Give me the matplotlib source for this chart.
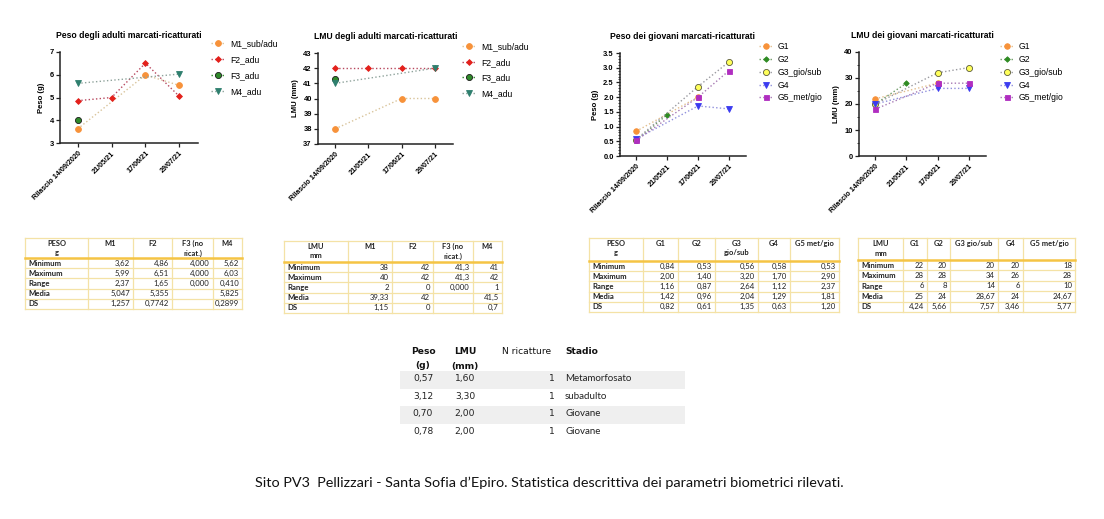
"""
Biometric charts and descriptive-statistics tables for site PV3 (Pellizzari).
Four GraphPad-style line charts on top, four stats tables, a small
recapture table and a caption, all laid out on one 1104x519 canvas.
"""

import numpy as np
import matplotlib
matplotlib.use("Agg")
import matplotlib.pyplot as plt
from matplotlib.ticker import MultipleLocator

nan = np.nan
plt.rcParams["font.family"] = ["Liberation Sans", "DejaVu Sans"]

# ---------------------------------------------------------------------------
# Data
# ---------------------------------------------------------------------------

DATES = ["Rilascio 14/09/2020", "21/05/21", "17/06/21", "29/07/21"]

ADULT_NAMES = ["M1_sub/adu", "F2_adu", "F3_adu", "M4_adu"]
PESO_ADULTI = [[3.62, nan, 5.99, 5.53],
               [4.86, 5.00, 6.51, 5.05],
               [4.00, nan, nan, nan],
               [5.62, nan, nan, 6.03]]
LMU_ADULTI = [[38, nan, 40, 40],
              [42, 42, 42, 42],
              [41.3, nan, nan, nan],
              [41, nan, nan, 42]]

JUV_NAMES = ["G1", "G2", "G3_gio/sub", "G4", "G5_met/gio"]
PESO_GIOVANI = [[0.84, nan, 2.00, nan],
                [0.53, 1.40, nan, nan],
                [0.56, nan, 2.36, 3.20],
                [0.58, nan, 1.70, 1.60],
                [0.53, nan, 2.00, 2.90]]
LMU_GIOVANI = [[22, nan, 28, nan],
               [20, 28, nan, nan],
               [20, nan, 32, 34],
               [20, nan, 26, 26],
               [18, nan, 28, 28]]

STAT_LABELS = ["Minimum", "Maximum", "Range", "Media", "DS"]

TAB1_HEAD = ["PESO\ng", "M1", "F2", "F3 (no\nricat.)", "M4"]
TAB1_ROWS = [["3,62", "4,86", "4,000", "5,62"],
             ["5,99", "6,51", "4,000", "6,03"],
             ["2,37", "1,65", "0,000", "0,410"],
             ["5,047", "5,355", "", "5,825"],
             ["1,257", "0,7742", "", "0,2899"]]

TAB2_HEAD = ["LMU\nmm", "M1", "F2", "F3 (no\nricat.)", "M4"]
TAB2_ROWS = [["38", "42", "41,3", "41"],
             ["40", "42", "41,3", "42"],
             ["2", "0", "0,000", "1"],
             ["39,33", "42", "", "41,5"],
             ["1,15", "0", "", "0,7"]]

TAB3_HEAD = ["PESO\ng", "G1", "G2", "G3\ngio/sub", "G4", "G5 met/gio"]
TAB3_ROWS = [["0,84", "0,53", "0,56", "0,58", "0,53"],
             ["2,00", "1,40", "3,20", "1,70", "2,90"],
             ["1,16", "0,87", "2,64", "1,12", "2,37"],
             ["1,42", "0,96", "2,04", "1,29", "1,81"],
             ["0,82", "0,61", "1,35", "0,63", "1,20"]]

TAB4_HEAD = ["LMU\nmm", "G1", "G2", "G3 gio/sub", "G4", "G5 met/gio"]
TAB4_ROWS = [["22", "20", "20", "20", "18"],
             ["28", "28", "34", "26", "28"],
             ["6", "8", "14", "6", "10"],
             ["25", "24", "28,67", "24", "24,67"],
             ["4,24", "5,66", "7,57", "3,46", "5,77"]]

RICAT_PESO = ["0,57", "3,12", "0,70", "0,78"]
RICAT_LMU = ["1,60", "3,30", "2,00", "2,00"]
RICAT_N = [1, 1, 1, 1]
RICAT_STADIO = ["Metamorfosato", "subadulto", "Giovane", "Giovane"]

CAPTION = ("Sito PV3  Pellizzari - Santa Sofia d\u2019Epiro. "
           "Statistica descrittiva dei parametri biometrici rilevati.")

# ---------------------------------------------------------------------------
# Style
# ---------------------------------------------------------------------------

W, H = 1104, 519

ADULT_STYLE = [
    dict(marker="o", mfc="#F7923A", mec="#F7923A", ms=4.2, lc="#D9C49B"),
    dict(marker="D", mfc="#E3211C", mec="#E3211C", ms=3.0, lc="#B8485E"),
    dict(marker="o", mfc="#2F8A2A", mec="#1A1A1A", ms=4.4, lc="#2F8A2A"),
    dict(marker="v", mfc="#2E7F6E", mec="#2E7F6E", ms=4.0, lc="#8FA39C"),
]
JUV_STYLE = [
    dict(marker="o", mfc="#F7923A", mec="#F7923A", ms=4.0, lc="#E2BE8E"),
    dict(marker="D", mfc="#2E8B22", mec="#2E8B22", ms=2.8, lc="#6E9A66"),
    dict(marker="o", mfc="#FFFF5A", mec="#5A5A3A", ms=4.4, lc="#9A9AA0"),
    dict(marker="v", mfc="#3B3BF0", mec="#3B3BF0", ms=3.8, lc="#9090DD"),
    dict(marker="s", mfc="#B02EC0", mec="#B02EC0", ms=3.6, lc="#A77AB4"),
]

TAB_FONT = ["Lato", "DejaVu Sans"]
GRID_COLOR = "#F4E2A6"
HEAD_LINE = "#F5C444"


def px_rect(x0, y0, x1, y1):
    """Figure-fraction rectangle from pixel box (origin top-left)."""
    return [x0 / W, 1 - y1 / H, (x1 - x0) / W, (y1 - y0) / H]


def draw_chart(fig, box, title, ylabel, series, names, styles, ylim,
               major, minor, legend_xy, spacing):
    ax = fig.add_axes(px_rect(*box))
    x = np.arange(len(DATES))
    handles = []
    for vals, name, st in zip(series, names, styles):
        vals = np.asarray(vals, dtype=float)
        ok = ~np.isnan(vals)
        (h,) = ax.plot(x[ok], vals[ok], linestyle=":", linewidth=1.0,
                       color=st["lc"], marker=st["marker"], ms=st["ms"],
                       mfc=st["mfc"], mec=st["mec"], mew=0.6, label=name,
                       clip_on=False, zorder=3)
        handles.append(h)

    ax.set_xlim(-0.52, 3.55)
    ax.set_ylim(*ylim)
    ax.set_xticks(x)
    ax.set_xticklabels(DATES, rotation=45, ha="right",
                       rotation_mode="anchor", fontsize=5.2,
                       fontweight="bold")
    ax.yaxis.set_major_locator(MultipleLocator(major))
    if minor:
        ax.yaxis.set_minor_locator(MultipleLocator(minor))
    ax.tick_params(axis="y", labelsize=5.4, length=3, width=0.9,
                   pad=1.5, color="#222222")
    ax.tick_params(axis="y", which="minor", length=1.8, width=0.6,
                   color="#222222")
    ax.tick_params(axis="x", length=3, width=0.9, pad=2, color="#222222")
    for lab in ax.get_yticklabels():
        lab.set_fontweight("bold")
    for side in ("top", "right"):
        ax.spines[side].set_visible(False)
    for side in ("left", "bottom"):
        ax.spines[side].set_linewidth(1.1)
        ax.spines[side].set_color("#222222")

    ax.set_title(title, fontsize=6.2, fontweight="bold", pad=10)
    ax.set_ylabel(ylabel, fontsize=5.6, fontweight="bold", labelpad=3)

    lx, ly = legend_xy
    fig.legend(handles=handles, loc="upper left",
               bbox_to_anchor=(lx / W, 1 - ly / H), frameon=False,
               fontsize=6.2, handlelength=1.6, handletextpad=0.6,
               labelspacing=spacing, borderpad=0, borderaxespad=0)
    return ax


def draw_table(ax, cols, top, head_bot, bottom, head, rows):
    """Stats table drawn in pixel coordinates on the background axes."""
    n_rows = len(STAT_LABELS)
    row_h = (bottom - head_bot) / n_rows
    # grid
    for xc in cols:
        ax.plot([xc, xc], [top, bottom], color=GRID_COLOR, lw=0.9)
    ax.plot([cols[0], cols[-1]], [top, top], color=GRID_COLOR, lw=0.9)
    for i in range(1, n_rows + 1):
        y = head_bot + i * row_h
        ax.plot([cols[0], cols[-1]], [y, y], color=GRID_COLOR, lw=0.9)
    ax.plot([cols[0], cols[-1]], [head_bot, head_bot], color=HEAD_LINE,
            lw=1.8)

    # header
    for j, txt in enumerate(head):
        cx = (cols[j] + cols[j + 1]) / 2
        for k, line in enumerate(txt.split("\n")):
            ax.text(cx, top + 5.5 + k * 9.5, line, ha="center", va="center",
                    fontsize=5.4, fontweight="bold", family=TAB_FONT,
                    color="#222222")

    # body
    for i, (lab, vals) in enumerate(zip(STAT_LABELS, rows)):
        cy = head_bot + (i + 0.5) * row_h
        ax.text(cols[0] + 3, cy, lab, ha="left", va="center", fontsize=5.6,
                fontweight="bold", family=TAB_FONT, color="#222222")
        for j, v in enumerate(vals):
            ax.text(cols[j + 2] - 3, cy, v, ha="right", va="center",
                    fontsize=5.6, family=TAB_FONT, color="#222222")


fig = plt.figure(figsize=(W / 100, H / 100), dpi=100)
fig.patch.set_facecolor("white")

bg = fig.add_axes([0, 0, 1, 1], zorder=-1)
bg.set_xlim(0, W)
bg.set_ylim(H, 0)
bg.axis("off")

# --- charts ---
draw_chart(fig, (60, 52, 198, 143), "Peso degli adulti marcati-ricatturati",
           "Peso (g)", PESO_ADULTI, ADULT_NAMES, ADULT_STYLE, (3, 7),
           1, None, (211, 39), 0.82)
draw_chart(fig, (318, 53, 453, 144), "LMU degli adulti marcati-ricatturati",
           "LMU (mm)", LMU_ADULTI, ADULT_NAMES, ADULT_STYLE, (37, 43),
           1, None, (462, 42), 0.78)
draw_chart(fig, (620, 53, 746, 156), "Peso dei giovani marcati-ricatturati",
           "Peso (g)", PESO_GIOVANI, JUV_NAMES, JUV_STYLE, (0, 3.5),
           0.5, 0.1, (759, 42), 0.45)
draw_chart(fig, (859, 52, 986, 156), "LMU dei giovani marcati-ricatturati",
           "LMU (mm)", LMU_GIOVANI, JUV_NAMES, JUV_STYLE, (0, 40),
           10, 5, (1000, 42), 0.45)

# --- stats tables ---
draw_table(bg, [25, 88, 133, 172, 213, 242], 238, 258, 309,
           TAB1_HEAD, TAB1_ROWS)
draw_table(bg, [284, 348, 392, 433, 473, 502], 241, 262, 313,
           TAB2_HEAD, TAB2_ROWS)
draw_table(bg, [589, 643, 678, 715, 758, 790, 839], 238, 261, 312,
           TAB3_HEAD, TAB3_ROWS)
draw_table(bg, [858, 903, 927, 950, 998, 1023, 1075], 238, 260, 312,
           TAB4_HEAD, TAB4_ROWS)

# --- recapture table ---
hdr = dict(ha="center", va="center", fontsize=6.6, fontweight="bold",
           family=["DejaVu Sans"], color="#111111")
bg.text(423, 352, "Peso", **hdr)
bg.text(423, 366, "(g)", **hdr)
bg.text(465, 352, "LMU", **hdr)
bg.text(465, 366, "(mm)", **hdr)
bg.text(527, 352, "N ricatture", ha="center", va="center", fontsize=6.6,
        family=["DejaVu Sans"], color="#111111")
bg.text(565, 352, "Stadio", ha="left", va="center", fontsize=6.6,
        fontweight="bold", family=["DejaVu Sans"], color="#111111")

row_y0, row_h = 371, 17.7
for i, (p, l, n, s) in enumerate(zip(RICAT_PESO, RICAT_LMU, RICAT_N,
                                     RICAT_STADIO)):
    y_top = row_y0 + i * row_h
    cy = y_top + row_h / 2 - 1.5
    if i % 2 == 0:
        bg.add_patch(plt.Rectangle((400, y_top), 285, row_h,
                                   color="#EFEFEF", lw=0, zorder=0))
    val = dict(va="center", fontsize=6.6, family=["DejaVu Sans"],
               color="#222222", zorder=2)
    bg.text(423, cy, p, ha="center", **val)
    bg.text(465, cy, l, ha="center", **val)
    bg.text(555, cy, str(n), ha="right", **val)
    bg.text(565, cy, s, ha="left", va="center", fontsize=7.0,
            family=TAB_FONT, color="#222222", zorder=2)

# --- caption ---
bg.text(549, 483, CAPTION, ha="center", va="center", fontsize=10.4,
        family=TAB_FONT, color="#111111")

fig.savefig("out.png", dpi=100, facecolor="white")
